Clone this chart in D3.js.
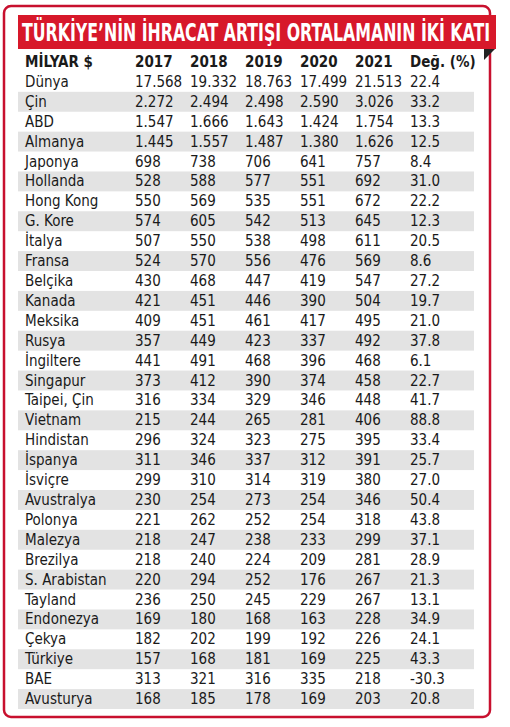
<!DOCTYPE html>
<html><head><meta charset="utf-8">
<script src="https://cdn.jsdelivr.net/npm/d3@7"></script>
<style>body{margin:0;background:#fff}</style>
</head><body>
<script>
var title = "TÜRKİYE’NİN İHRACAT ARTIŞI ORTALAMANIN İKİ KATI";
var headers = ["MİLYAR $", "2017", "2018", "2019", "2020", "2021", "Değ. (%)"];
var countries = ["Dünya","Çin","ABD","Almanya","Japonya","Hollanda","Hong Kong","G. Kore","İtalya","Fransa","Belçika","Kanada","Meksika","Rusya","İngiltere","Singapur","Taipei, Çin","Vietnam","Hindistan","İspanya","İsviçre","Avustralya","Polonya","Malezya","Brezilya","S. Arabistan","Tayland","Endonezya","Çekya","Türkiye","BAE","Avusturya"];
var v2017 = ["17.568","2.272","1.547","1.445","698","528","550","574","507","524","430","421","409","357","441","373","316","215","296","311","299","230","221","218","218","220","236","169","182","157","313","168"];
var v2018 = ["19.332","2.494","1.666","1.557","738","588","569","605","550","570","468","451","451","449","491","412","334","244","324","346","310","254","262","247","240","294","250","180","202","168","321","185"];
var v2019 = ["18.763","2.498","1.643","1.487","706","577","535","542","538","556","447","446","461","423","468","390","329","265","323","337","314","273","252","238","224","252","245","168","199","181","316","178"];
var v2020 = ["17.499","2.590","1.424","1.380","641","551","551","513","498","476","419","390","417","337","396","374","346","281","275","312","319","254","254","233","209","176","229","163","192","169","335","169"];
var v2021 = ["21.513","3.026","1.754","1.626","757","692","672","645","611","569","547","504","495","492","468","458","448","406","395","391","380","346","318","299","281","267","267","228","226","225","218","203"];
var change = ["22.4","33.2","13.3","12.5","8.4","31.0","22.2","12.3","20.5","8.6","27.2","19.7","21.0","37.8","6.1","22.7","41.7","88.8","33.4","25.7","27.0","50.4","43.8","37.1","28.9","21.3","13.1","34.9","24.1","43.3","-30.3","20.8"];

var w = 510, h = 727;
var font = "'DejaVu Sans Condensed','Roboto',sans-serif";
var svg = d3.select("body").append("svg").attr("width", w).attr("height", h);

// outer red frame
svg.append("rect").attr("x", 4).attr("y", 6).attr("width", 486).attr("height", 711)
  .attr("rx", 7).attr("fill", "#fff").attr("stroke", "#c8102e").attr("stroke-width", 2.5);

// title banner with fold
svg.append("path").attr("d", "M484,48 L496,48 L484,60 Z").attr("fill", "#222");
svg.append("rect").attr("x", 18).attr("y", 15).attr("width", 478).attr("height", 34).attr("fill", "#d7182a");
svg.append("text").attr("x", 22).attr("y", 41)
  .attr("font-family", font).attr("font-weight", "bold").attr("font-size", 24)
  .attr("fill", "#fff").attr("textLength", 468).attr("lengthAdjust", "spacingAndGlyphs").text(title);

var y = d3.scaleBand().domain(d3.range(countries.length + 1)).range([52, 709]);
var colX = [25, 135, 190, 245, 300, 355, 410];

var rows = countries.map(function(c, i) {
  return [c, v2017[i], v2018[i], v2019[i], v2020[i], v2021[i], change[i]];
});

// striped background
svg.selectAll("rect.band").data(rows).enter().append("rect").attr("class", "band")
  .attr("x", 18).attr("width", 456)
  .attr("y", function(d, i) { return y(i + 1); })
  .attr("height", y.bandwidth())
  .attr("fill", function(d, i) { return i % 2 === 1 ? "#e3e3e3" : "none"; });

var all = [headers].concat(rows);
var g = svg.selectAll("g.row").data(all).enter().append("g").attr("class", "row")
  .attr("transform", function(d, i) { return "translate(0," + (y(i) + y.bandwidth() / 2 + 5) + ")"; });

g.selectAll("text").data(function(d, i) { return d.map(function(t) { return {t: t, head: i === 0}; }); })
  .enter().append("text")
  .attr("x", function(d, j) { return colX[j]; })
  .attr("font-family", font).attr("font-size", 15)
  .attr("font-weight", function(d) { return d.head ? "bold" : "normal"; })
  .attr("fill", "#1a1a1a")
  .text(function(d) { return d.t; });
</script>
</body></html>
